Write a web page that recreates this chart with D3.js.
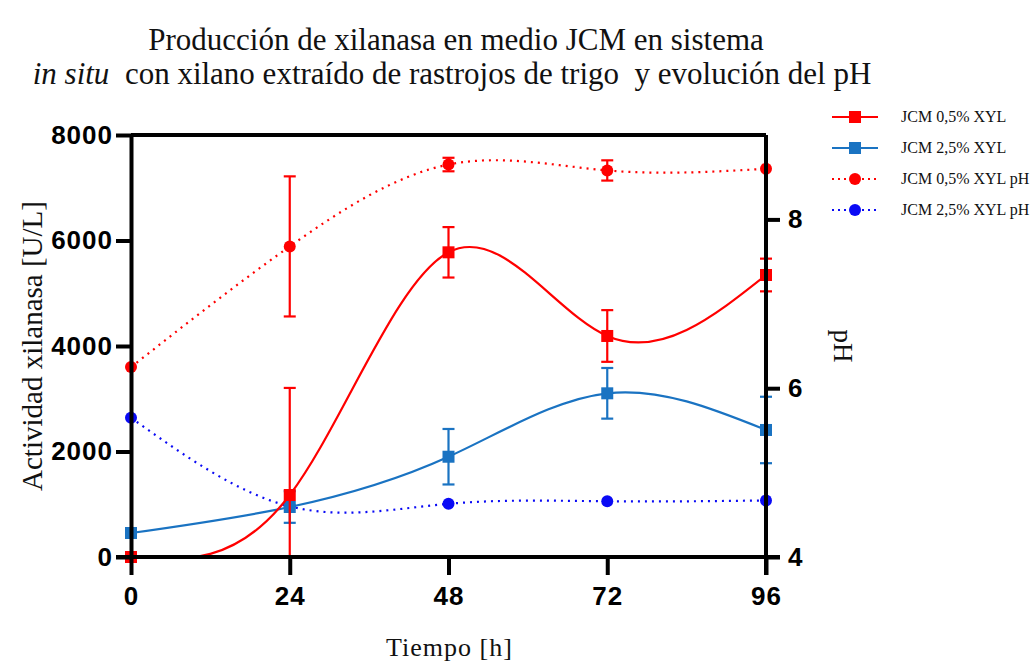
<!DOCTYPE html>
<html>
<head>
<meta charset="utf-8">
<script src="https://cdn.jsdelivr.net/npm/d3@7"></script>
<style>
  html, body { margin: 0; padding: 0; background: #fff; }
  svg { display: block; }
</style>
</head>
<body>
<svg id="chart" width="1031" height="661"></svg>
<script>
// Sampling times (h)
const hours = [0, 24, 48, 72, 96];
const xTicks = [0, 24, 48, 72, 96];
const yLeftTicks = [0, 2000, 4000, 6000, 8000];
const yRightTicks = [4, 6, 8];

// Xylanase activity [U/L] and standard deviation
const act05 = [0, 1175, 5776, 4190, 5346];
const act05Err = [0, 2030, 478, 490, 310];
const act25 = [455, 948, 1901, 3103, 2408];
const act25Err = [0, 300, 526, 480, 630];

// pH evolution
const ph05 = [6.25, 7.68, 8.65, 8.58, 8.60];
const ph05Err = [0, 0.83, 0.08, 0.12, 0];
const ph25 = [5.65, 4.60, 4.63, 4.66, 4.67];
const ph25Err = [0, 0, 0, 0, 0];

const seriesNames = ["JCM 0,5% XYL", "JCM 2,5% XYL", "JCM 0,5% XYL pH", "JCM 2,5% XYL pH"];

const RED = "#ff0000", STEEL = "#1a73c2", BLUE = "#0a0af5";

const svg = d3.select("#chart");
const plot = { left: 131, right: 766, top: 135, bottom: 557 };

const x = d3.scaleLinear().domain([0, 96]).range([plot.left, plot.right]);
const yL = d3.scaleLinear().domain([0, 8000]).range([plot.bottom, plot.top]);
const yR = d3.scaleLinear().domain([4, 9]).range([plot.bottom, plot.top]);

// Title
const title = svg.append("text")
  .attr("font-family", "Liberation Serif, serif")
  .attr("font-size", 31)
  .attr("fill", "#111")
  .attr("text-anchor", "middle");
title.append("tspan").attr("x", 456).attr("y", 50)
  .text("Producción de xilanasa en medio JCM en sistema");
const l2 = title.append("tspan").attr("x", 452).attr("y", 84);
l2.append("tspan").attr("font-style", "italic").text("in situ");
l2.append("tspan").text("\u00a0 con xilano extraído de rastrojos de trigo \u00a0y evolución del pH");

// Clip for curves
svg.append("defs").append("clipPath").attr("id", "plotclip")
  .append("rect")
  .attr("x", plot.left).attr("y", plot.top - 10)
  .attr("width", plot.right - plot.left + 10)
  .attr("height", plot.bottom - plot.top + 10);

const g = svg.append("g");

function drawSeries(vals, errs, yScale, color, dashed, marker) {
  const pts = hours.map((h, i) => ({ h, v: vals[i], e: errs[i] }));
  const line = d3.line().x(d => x(d.h)).y(d => yScale(d.v)).curve(d3.curveNatural);
  g.append("path").datum(pts)
    .attr("clip-path", "url(#plotclip)")
    .attr("d", line)
    .attr("fill", "none")
    .attr("stroke", color)
    .attr("stroke-width", 2.2)
    .attr("stroke-dasharray", dashed ? "2,5" : null);

  // error bars
  const eb = g.append("g").attr("stroke", color).attr("stroke-width", 2.2);
  pts.filter(d => d.e > 0).forEach(d => {
    const lo = Math.max(yScale.domain()[0], d.v - d.e);
    const hi = d.v + d.e;
    const cx = x(d.h);
    eb.append("line").attr("x1", cx).attr("x2", cx)
      .attr("y1", yScale(lo)).attr("y2", yScale(hi));
    eb.append("line").attr("x1", cx - 6).attr("x2", cx + 6)
      .attr("y1", yScale(hi)).attr("y2", yScale(hi));
    if (d.v - d.e >= yScale.domain()[0]) {
      eb.append("line").attr("x1", cx - 6).attr("x2", cx + 6)
        .attr("y1", yScale(lo)).attr("y2", yScale(lo));
    }
  });

  // markers
  pts.forEach(d => {
    if (marker === "square") {
      g.append("rect").attr("x", x(d.h) - 6).attr("y", yScale(d.v) - 6)
        .attr("width", 12).attr("height", 12).attr("fill", color);
    } else {
      g.append("circle").attr("cx", x(d.h)).attr("cy", yScale(d.v))
        .attr("r", 6).attr("fill", color);
    }
  });
}

drawSeries(ph05, ph05Err, yR, RED, true, "circle");
drawSeries(ph25, ph25Err, yR, BLUE, true, "circle");
drawSeries(act25, act25Err, yL, STEEL, false, "square");
drawSeries(act05, act05Err, yL, RED, false, "square");

// Axes
const tickFont = "Liberation Sans, Arial, sans-serif";
function styleAxis(sel) {
  sel.select(".domain").attr("stroke", "#000").attr("stroke-width", 4);
  sel.selectAll(".tick line").attr("stroke", "#000").attr("stroke-width", 4);
  sel.selectAll(".tick text")
    .attr("font-family", tickFont)
    .attr("font-weight", "bold")
    .attr("font-size", 26)
    .attr("letter-spacing", 1)
    .attr("fill", "#000");
}

// frame top line
svg.append("line")
  .attr("x1", plot.left).attr("x2", plot.right)
  .attr("y1", plot.top).attr("y2", plot.top)
  .attr("stroke", "#000").attr("stroke-width", 4);

const axL = svg.append("g").attr("transform", `translate(${plot.left},0)`)
  .call(d3.axisLeft(yL).tickValues(yLeftTicks).tickFormat(d3.format("d"))
    .tickSize(15).tickSizeOuter(0).tickPadding(3));
styleAxis(axL);

const axR = svg.append("g").attr("transform", `translate(${plot.right},0)`)
  .call(d3.axisRight(yR).tickValues(yRightTicks).tickFormat(d3.format("d"))
    .tickSize(14).tickSizeOuter(0).tickPadding(8));
styleAxis(axR);
axR.select(".domain").attr("d", `M0,${plot.top}V${plot.bottom + 18}`);

const axB = svg.append("g").attr("transform", `translate(0,${plot.bottom})`)
  .call(d3.axisBottom(x).tickValues(xTicks).tickFormat(d3.format("d"))
    .tickSize(18).tickSizeOuter(0).tickPadding(12));
styleAxis(axB);
axB.select(".domain").attr("d", `M${plot.left - 15},0H${plot.right + 14}`);

// Axis titles
svg.append("text")
  .attr("transform", `translate(42,${(plot.top + plot.bottom) / 2}) rotate(-90)`)
  .attr("text-anchor", "middle")
  .attr("font-family", "Liberation Serif, serif")
  .attr("font-size", 29)
  .attr("fill", "#111")
  .text("Actividad xilanasa [U/L]");

svg.append("text")
  .attr("transform", `translate(834,${(plot.top + plot.bottom) / 2}) rotate(90)`)
  .attr("text-anchor", "middle")
  .attr("font-family", "Liberation Serif, serif")
  .attr("font-size", 27)
  .attr("fill", "#111")
  .text("pH");

svg.append("text")
  .attr("x", (plot.left + plot.right) / 2 + 1).attr("y", 656)
  .attr("text-anchor", "middle")
  .attr("font-family", "Liberation Serif, serif")
  .attr("font-size", 26)
  .attr("letter-spacing", 1)
  .attr("fill", "#111")
  .text("Tiempo [h]");

// Legend
const legendStyles = [
  { color: RED, dashed: false, marker: "square" },
  { color: STEEL, dashed: false, marker: "square" },
  { color: RED, dashed: true, marker: "circle" },
  { color: BLUE, dashed: true, marker: "circle" }
];
const lg = svg.append("g").attr("transform", "translate(832,117)");
seriesNames.forEach((name, i) => {
  const s = legendStyles[i];
  const row = lg.append("g").attr("transform", `translate(0,${i * 31})`);
  row.append("line").attr("x1", 0).attr("x2", 46).attr("y1", 0).attr("y2", 0)
    .attr("stroke", s.color).attr("stroke-width", 2.2)
    .attr("stroke-dasharray", s.dashed ? "2,4" : null);
  if (s.marker === "square") {
    row.append("rect").attr("x", 17).attr("y", -6).attr("width", 12).attr("height", 12).attr("fill", s.color);
  } else {
    row.append("circle").attr("cx", 23).attr("cy", 0).attr("r", 6).attr("fill", s.color);
  }
  row.append("text").attr("x", 69).attr("y", 5)
    .attr("font-family", "Liberation Serif, serif")
    .attr("font-size", 16)
    .attr("fill", "#111")
    .text(name);
});
</script>
</body>
</html>
